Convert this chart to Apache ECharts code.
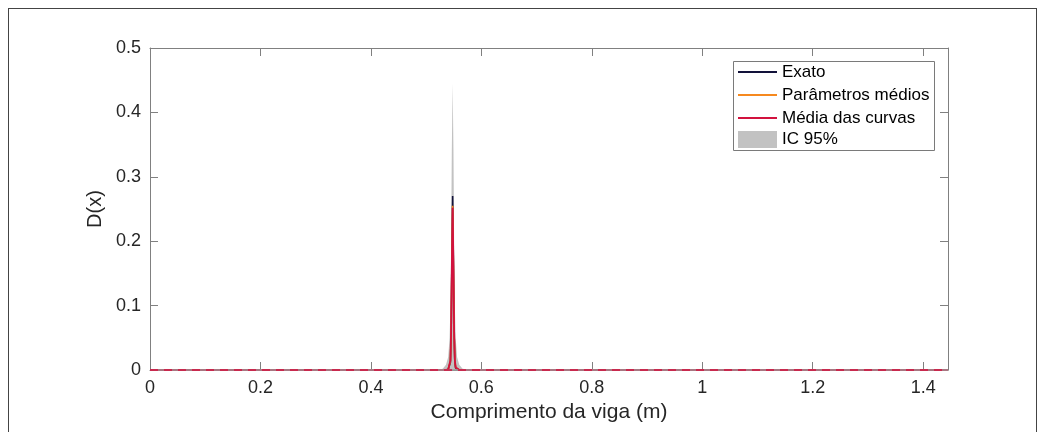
<!DOCTYPE html>
<html><head><meta charset="utf-8">
<script src="https://cdn.jsdelivr.net/npm/echarts@6/dist/echarts.min.js"></script>
<style>
html,body{margin:0;padding:0;background:#fff;}
#frame{position:absolute;left:8px;top:8px;width:1029px;height:440px;border:1px solid #444;box-sizing:border-box;}
#c{position:absolute;left:0;top:0;width:1047px;height:432px;}
</style></head><body>
<div id="frame"></div>
<div id="c"></div>
<script>
// Data
const xs      = [0, 0.52,  0.530, 0.536, 0.540, 0.5425, 0.544, 0.5453, 0.5465, 0.548, 0.5495, 0.5507, 0.552, 0.5535, 0.556, 0.560, 0.566, 0.58, 1.445];
const exato   = [0, 0,     0,     0,     0.001, 0.003,  0.012, 0.055,  0.155,  0.270, 0.155,  0.055,  0.012, 0.003,  0.001, 0,     0,     0,    0];
const params  = [0, 0,     0,     0,     0.001, 0.004,  0.014, 0.058,  0.150,  0.255, 0.150,  0.058,  0.014, 0.004,  0.001, 0,     0,     0,    0];
const media   = [0, 0,     0,     0,     0.001, 0.004,  0.015, 0.060,  0.155,  0.252, 0.155,  0.060,  0.015, 0.004,  0.001, 0,     0,     0,    0];
const icUpper = [0, 0,     0.002, 0.008, 0.020, 0.050,  0.100, 0.200,  0.340,  0.445, 0.340,  0.200,  0.100, 0.050,  0.020, 0.008, 0.002, 0,    0];
const xTicks  = [0, 0.2, 0.4, 0.6, 0.8, 1, 1.2, 1.4];
const yTicks  = [0, 0.1, 0.2, 0.3, 0.4, 0.5];

const pairs = ys => xs.map((x, i) => [x, ys[i]]);
const txt = '#262626';
const AX = '#808080';
const FONT = 'Liberation Sans, Arial, sans-serif';
const C_EX = '#12123a', C_PM = '#f6891f', C_MD = '#d2123e', C_IC = '#c2c2c2';
const axisCommon = {
  type: 'value', min: 0,
  axisLine: {show: true, onZero: false, lineStyle: {color: AX, width: 1}},
  splitLine: {show: false},
  axisTick: {show: true, inside: true, length: 8, lineStyle: {color: AX}}
};
const chart = echarts.init(document.getElementById('c'));
chart.setOption({
  animation: false,
  grid: {left: 150, right: 99, top: 48, bottom: 62, containLabel: false},
  xAxis: [
    Object.assign({}, axisCommon, {
      max: 1.445, position: 'bottom',
      axisTick: {show: true, inside: true, length: 8, lineStyle: {color: AX}, customValues: xTicks},
      axisLabel: {color: txt, fontSize: 18, fontFamily: FONT, margin: 9, customValues: xTicks},
      name: 'Comprimento da viga (m)', nameLocation: 'middle', nameGap: 30,
      nameTextStyle: {color: txt, fontSize: 21, fontFamily: FONT}
    }),
    Object.assign({}, axisCommon, {
      max: 1.445, position: 'top',
      axisTick: {show: true, inside: true, length: 8, lineStyle: {color: AX}, customValues: xTicks},
      axisLabel: {show: false}
    })
  ],
  yAxis: [
    Object.assign({}, axisCommon, {
      max: 0.5, interval: 0.1, position: 'left',
      axisLabel: {color: txt, fontSize: 18, fontFamily: FONT, margin: 9, customValues: yTicks},
      name: 'D(x)', nameLocation: 'middle', nameGap: 34,
      nameTextStyle: {color: txt, fontSize: 20, fontFamily: FONT}
    }),
    Object.assign({}, axisCommon, {
      max: 0.5, interval: 0.1, position: 'right',
      axisLabel: {show: false}
    })
  ],
  graphic: [{
    type: 'rect', shape: {x: 733.5, y: 61.5, width: 201, height: 89},
    style: {fill: '#fff', stroke: '#7a7a7a', lineWidth: 1}, z: 50
  }],
  legend: [
    {
      left: 738, top: 62, orient: 'vertical', z: 60,
      padding: 0, itemGap: 3, itemWidth: 39, itemHeight: 2, icon: 'rect',
      textStyle: {color: '#000', fontSize: 17, fontFamily: FONT, lineHeight: 20},
      data: ['Exato', 'Parâmetros médios', 'Média das curvas']
    },
    {
      left: 738, top: 131, orient: 'vertical', z: 60,
      padding: 0, itemWidth: 39, itemHeight: 17, icon: 'rect',
      textStyle: {color: '#000', fontSize: 17, fontFamily: FONT},
      data: ['IC 95%']
    }
  ],
  series: [
    {name: 'IC 95%', type: 'line', data: pairs(icUpper), symbol: 'none',
     lineStyle: {width: 0, color: C_IC}, itemStyle: {color: C_IC},
     areaStyle: {color: C_IC, opacity: 1}, z: 1},
    {name: 'Exato', type: 'line', data: pairs(exato), symbol: 'none',
     lineStyle: {width: 1.6, color: C_EX}, itemStyle: {color: C_EX}, z: 2},
    {name: 'Parâmetros médios', type: 'line', data: pairs(params), symbol: 'none',
     lineStyle: {width: 1.6, color: C_PM}, itemStyle: {color: C_PM}, z: 3},
    {name: 'Média das curvas', type: 'line', data: pairs(media), symbol: 'none',
     lineStyle: {width: 1.8, color: C_MD}, itemStyle: {color: C_MD}, z: 4},
    {name: 'zero', type: 'line', data: [], z: 10, silent: true,
     markLine: {silent: true, symbol: 'none', label: {show: false}, animation: false,
       data: [
         {yAxis: 0, lineStyle: {color: '#9a9a9a', type: 'solid', width: 1.6}},
         {yAxis: 0, lineStyle: {color: C_MD, type: [8, 6], width: 1.6}}
       ]}}
  ]
});
</script>
</body></html>
